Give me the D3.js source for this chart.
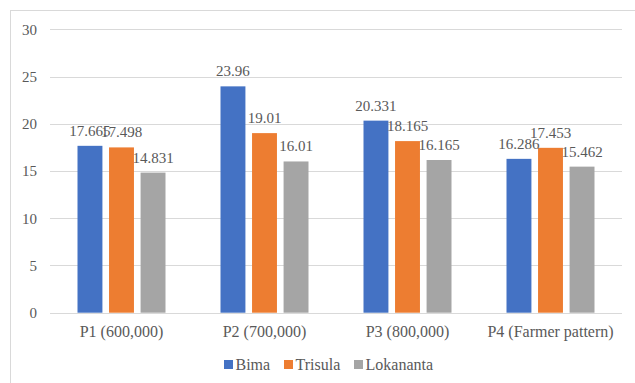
<!DOCTYPE html>
<html>
<head>
<meta charset="utf-8">
<script src="https://cdn.jsdelivr.net/npm/d3@7/dist/d3.min.js"></script>
<style>
  html, body { margin: 0; padding: 0; background: #fff; }
  svg { display: block; }
</style>
</head>
<body>
<svg id="chart" width="635" height="383"></svg>
<script>
// Plant data by treatment
const categories = ["P1 (600,000)", "P2 (700,000)", "P3 (800,000)", "P4 (Farmer pattern)"];
const seriesNames = ["Bima", "Trisula", "Lokananta"];
const bima = [17.665, 23.96, 20.331, 16.286];
const trisula = [17.498, 19.01, 18.165, 17.453];
const lokananta = [14.831, 16.01, 16.165, 15.462];
const valueLabels = [
  ["17.665", "23.96", "20.331", "16.286"],
  ["17.498", "19.01", "18.165", "17.453"],
  ["14.831", "16.01", "16.165", "15.462"]
];
const yTicks = [0, 5, 10, 15, 20, 25, 30];
const colors = ["#4472C4", "#ED7D31", "#A5A5A5"];

const series = [bima, trisula, lokananta];
const FONT = "'Liberation Serif', 'Times New Roman', Tinos, 'DejaVu Serif', serif";

const svg = d3.select("#chart");
const plot = { left: 50, right: 622, top: 29.3, bottom: 312.7 };

// Outer chart frame
svg.append("rect")
  .attr("x", 10.5).attr("y", 10.5)
  .attr("width", 640).attr("height", 400)
  .attr("fill", "none").attr("stroke", "#d9d9d9").attr("stroke-width", 1);

const y = d3.scaleLinear().domain([0, 30]).range([plot.bottom, plot.top]);
const x0 = d3.scaleBand().domain(categories).range([plot.left, plot.right]).padding(0);
const groupW = 88;
const x1 = d3.scaleBand().domain(seriesNames)
  .range([(x0.bandwidth() - groupW) / 2, (x0.bandwidth() + groupW) / 2])
  .paddingInner(0.21).paddingOuter(0);

// Gridlines
svg.append("g")
  .selectAll("line").data(yTicks).join("line")
  .attr("x1", plot.left).attr("x2", plot.right)
  .attr("y1", d => Math.round(y(d)) + 0.5).attr("y2", d => Math.round(y(d)) + 0.5)
  .attr("stroke", "#d9d9d9").attr("stroke-width", 1);

// Y axis tick labels
const yAxis = d3.axisLeft(y).tickValues(yTicks).tickSize(0).tickPadding(0);
const gy = svg.append("g").attr("transform", `translate(37,0)`).call(yAxis);
gy.attr("font-family", null).attr("font-size", null);
gy.select(".domain").remove();
gy.selectAll("text")
  .style("font-family", FONT)
  .style("font-size", "15px").attr("fill", "#595959").attr("dy", "0.33em");

// Bars
const groups = svg.append("g").selectAll("g").data(categories).join("g")
  .attr("transform", d => `translate(${x0(d)},0)`);

groups.each(function (cat, ci) {
  const g = d3.select(this);
  seriesNames.forEach((s, si) => {
    const v = series[si][ci];
    g.append("rect")
      .attr("x", x1(s)).attr("width", x1.bandwidth())
      .attr("y", y(v)).attr("height", y(0) - y(v))
      .attr("fill", colors[si]);
  });
  seriesNames.forEach((s, si) => {
    const v = series[si][ci];
    g.append("text")
      .attr("x", x1(s) + x1.bandwidth() / 2)
      .attr("y", y(v) - 10)
      .attr("text-anchor", "middle")
      .style("font-family", FONT)
      .style("font-size", "15px")
      .attr("fill", "#595959")
      .text(valueLabels[si][ci]);
  });
});

// X axis category labels
const xAxis = d3.axisBottom(x0).tickSize(0).tickPadding(0);
const gx = svg.append("g").attr("transform", `translate(0,${plot.bottom})`).call(xAxis);
gx.attr("font-family", null).attr("font-size", null);
gx.select(".domain").remove();
gx.selectAll("text")
  .style("font-family", FONT)
  .style("font-size", "16px").attr("fill", "#595959")
  .attr("dy", null).attr("y", 24);

// Legend
const legendX = [224, 284, 354];
const legend = svg.append("g").selectAll("g").data(seriesNames).join("g")
  .attr("transform", (d, i) => `translate(${legendX[i]},360)`);
legend.append("rect").attr("width", 9).attr("height", 9).attr("y", 0)
  .attr("fill", (d, i) => colors[i]);
legend.append("text").attr("x", 11.5).attr("y", 9.5)
  .style("font-family", FONT).style("font-size", "16px")
  .attr("fill", "#595959").text(d => d);
</script>
</body>
</html>
